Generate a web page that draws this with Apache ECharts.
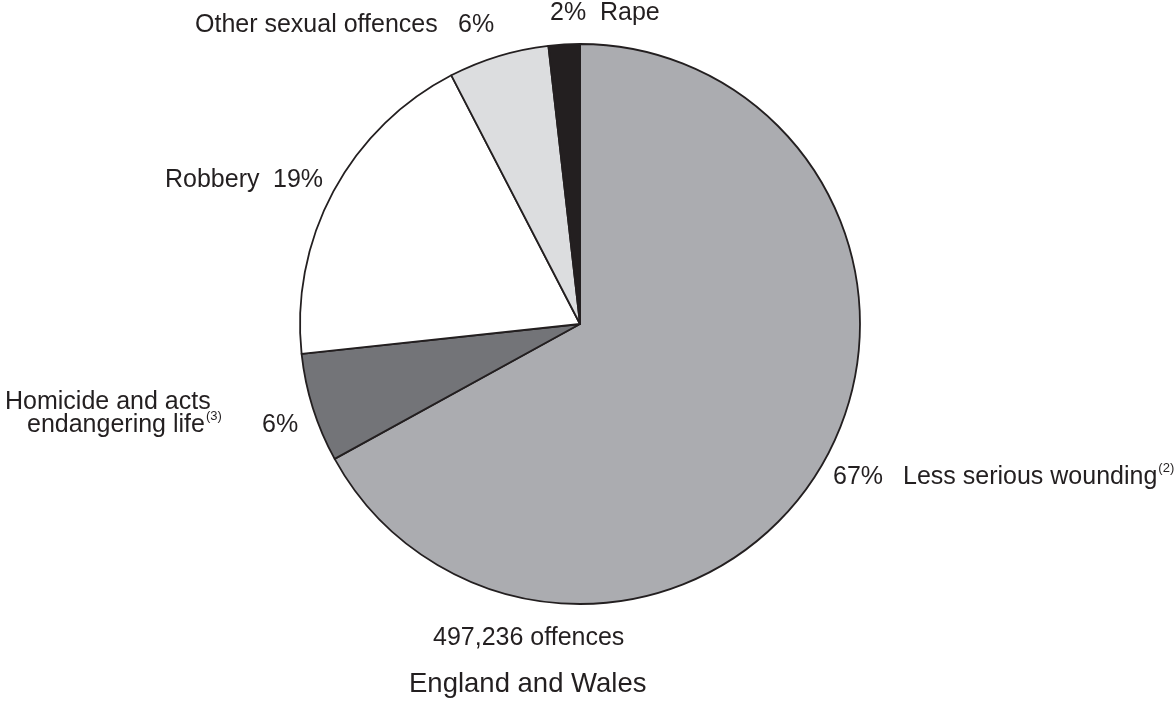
<!DOCTYPE html>
<html><head><meta charset="utf-8">
<script src="https://cdn.jsdelivr.net/npm/echarts@6/dist/echarts.min.js"></script>
<style>html,body{margin:0;padding:0;background:#fff}#c{width:1176px;height:706px}</style>
</head><body><div id="c"></div>
<script>
var categories = ['Less serious wounding', 'Homicide and acts endangering life', 'Robbery', 'Other sexual offences', 'Rape'];
var values = [67.0, 6.3, 19.1, 5.8, 1.8];
var shownPercents = ['67%', '6%', '19%', '6%', '2%'];
var colors = ['#abacb0', '#737478', '#ffffff', '#dcdddf', '#231f20'];
var totalLabel = '497,236 offences';
var regionLabel = 'England and Wales';

var chart = echarts.init(document.getElementById('c'));
var txt = '#231f20';
var font = '"Liberation Sans", Arial, Helvetica, sans-serif';
function t(x, y, text, size) {
  return {type: 'text', z: 10, style: {text: text, x: x, y: y, fill: txt, font: 'normal ' + (size || 25) + 'px ' + font, textAlign: 'left', textVerticalAlign: 'middle'}};
}
function rt(x, y, main, supText) {
  return {type: 'text', z: 10, style: {
    x: x, y: y, textVerticalAlign: 'middle', fill: txt, font: '25px ' + font,
    text: '{n|' + main + '}{sup|' + supText + '}',
    rich: {
      n: {fontSize: 25, fontFamily: font, fill: txt, lineHeight: 30},
      sup: {fontSize: 13, fontFamily: font, fill: txt, verticalAlign: 'top', lineHeight: 30, padding: [0, 0, 14, 1]}
    }
  }};
}
chart.setOption({
  animation: false,
  series: [{
    type: 'pie',
    center: [580, 324],
    radius: [0, 280],
    startAngle: 90,
    clockwise: true,
    label: {show: false},
    labelLine: {show: false},
    itemStyle: {borderColor: '#231f20', borderWidth: 1.8},
    emphasis: {disabled: true},
    data: categories.map(function (c, i) { return {name: c, value: values[i], itemStyle: {color: colors[i]}}; })
  }],
  graphic: [
    t(195, 25, categories[3]),
    t(458, 25, shownPercents[3]),
    t(550, 13, shownPercents[4]),
    t(600, 13, categories[4]),
    t(165, 180, categories[2]),
    t(273, 180, shownPercents[2]),
    t(5, 402, 'Homicide and acts'),
    rt(27, 425, 'endangering life', '(3)'),
    t(262, 425, shownPercents[1]),
    t(833, 477, shownPercents[0]),
    rt(903, 477, categories[0], '(2)'),
    t(433, 638, totalLabel),
    t(409, 684, regionLabel, 27.5)
  ]
});
</script></body></html>
